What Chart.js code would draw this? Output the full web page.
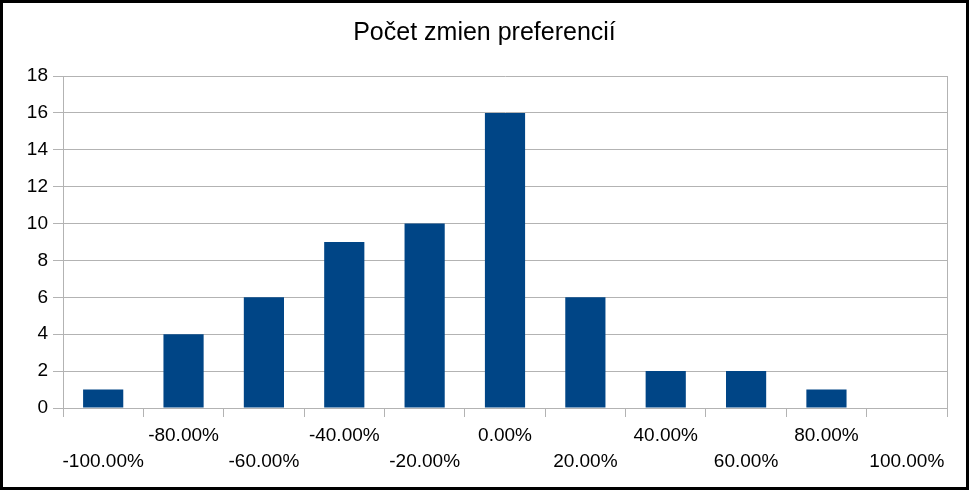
<!DOCTYPE html>
<html>
<head>
<meta charset="utf-8">
<script src="https://cdn.jsdelivr.net/npm/chart.js@4.4.0/dist/chart.umd.min.js"></script>
<style>
  html, body { margin: 0; padding: 0; background: #fff; }
  #wrap { position: relative; width: 969px; height: 490px; }
</style>
</head>
<body>
<div id="wrap"><canvas id="chart"></canvas></div>
<script>
const title = 'Počet zmien preferencií';
const categories = ['-100.00%', '-80.00%', '-60.00%', '-40.00%', '-20.00%', '0.00%',
                    '20.00%', '40.00%', '60.00%', '80.00%', '100.00%'];
const counts = [1, 4, 6, 9, 10, 16, 6, 2, 2, 1, 0];
const yTicks = { min: 0, max: 18, step: 2 };

const GRID = '#b3b3b3';
const FONT = "'Liberation Sans', Arial, sans-serif";

// staggered labels: even index on lower row, odd on upper row
const labels = categories.map((c, i) => i % 2 === 0 ? ['', c] : [c, '']);

// frame around the whole picture
const frame = {
    id: 'frame',
    afterDraw(chart) {
        const c = chart.ctx;
        c.save();
        c.strokeStyle = '#000';
        c.lineWidth = 3;
        c.strokeRect(1.5, 1.5, chart.width - 3, chart.height - 3);
        c.restore();
    }
};

const ctx = document.getElementById('chart');
new Chart(ctx, {
    type: 'bar',
    data: {
        labels: labels,
        datasets: [{
            label: title,
            data: counts,
            backgroundColor: '#004586',
            borderWidth: 0,
            barPercentage: 0.5,
            categoryPercentage: 1.0
        }]
    },
    options: {
        responsive: true,
        maintainAspectRatio: false,
        animation: false,
        layout: {
            padding: 0
        },
        plugins: {
            legend: { display: false },
            tooltip: { enabled: false },
            title: {
                display: true,
                text: title,
                color: '#000',
                font: { family: FONT, size: 25, weight: 'normal' },
                padding: { top: 18, bottom: 28 }
            }
        },
        scales: {
            x: {
                offset: true,
                grid: {
                    offset: true,
                    drawOnChartArea: false,
                    tickColor: GRID,
                    tickLength: 9
                },
                border: { color: GRID, width: 1 },
                ticks: {
                    autoSkip: false,
                    maxRotation: 0,
                    minRotation: 0,
                    padding: 6,
                    color: '#000',
                    font: { family: FONT, size: 19, lineHeight: 1.37 }
                },
                afterFit: s => { s.height = 82; }
            },
            y: {
                min: yTicks.min,
                max: yTicks.max,
                grid: { color: GRID, tickColor: GRID, tickLength: 10 },
                border: { color: GRID, width: 1 },
                ticks: {
                    stepSize: yTicks.step,
                    padding: 5,
                    color: '#000',
                    font: { family: FONT, size: 19 }
                },
                afterFit: s => { s.width = 63; }
            },
            // right edge of the plot frame
            yRight: {
                position: 'right',
                grid: { display: false },
                border: { color: GRID, width: 1 },
                ticks: { display: false },
                afterFit: s => { s.width = 22; }
            }
        }
    },
    plugins: [frame]
});
</script>
</body>
</html>
